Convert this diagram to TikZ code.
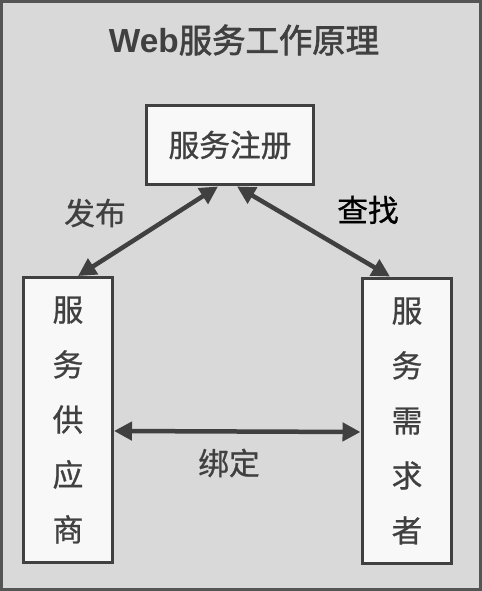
\documentclass[tikz,border=0pt]{standalone}
\usepackage{fontspec}
\newfontfamily\cjk[FakeBold=0.8]{Noto Sans CJK SC}
\newfontfamily\cjkb[FakeBold=2]{Noto Sans CJK SC}
\newfontfamily\latinb{Liberation Sans}
\usetikzlibrary{positioning,calc,arrows.meta}
\definecolor{bgray}{HTML}{D9D9D9}
\definecolor{dgray}{HTML}{404040}
\definecolor{framegray}{HTML}{555555}
\definecolor{boxfill}{HTML}{F8F8F8}

\begin{document}
\begin{tikzpicture}
        [x=0.02cm,y=-0.02cm,
        every node/.style={font=\cjk\fontsize{17.5}{31.3}\selectfont,text=dgray,inner sep=0pt},
        box/.style={draw=dgray,fill=boxfill,line width=0.6mm,align=center},
        link/.style={{Triangle[length=3.6mm,width=3.6mm]}-{Triangle[length=3.6mm,width=3.6mm]},draw=dgray,line width=0.9mm}]
        \useasboundingbox (0,0) rectangle (482,591);
        \draw[draw=framegray,fill=bgray,line width=0.06cm] (1.5,1.5) rectangle (480.5,589.5);
        % title
        \node (title) at (244,40) {\fontsize{19}{22}\selectfont{\latinb\bfseries Web}\cjkb 服务工作原理};
        % boxes
        \node[box,minimum width=3.36cm,minimum height=1.6cm] (reg) at (230,145) {服务注册};
        \node[box,minimum width=1.78cm,minimum height=5.7cm] (prov) at (68,420) {服\\务\\供\\应\\商};
        \node[box,minimum width=1.8cm,minimum height=5.72cm] (req) at (407,421) {服\\务\\需\\求\\者};
        % links
        \draw[link] ([xshift=-0.24cm]reg.south) -- ([xshift=0.2cm]prov.north);
        \draw[link] ([xshift=0.14cm]reg.south) -- ([xshift=-0.34cm]req.north);
        \draw[link] ([yshift=-0.22cm]prov.east) -- ([yshift=-0.22cm]req.west);
        % labels
        \node (pub) at (95,213) {发布};
        \node[text=black] (find) at (368,210) {查找};
        \node (bind) at (229,463) {绑定};
\end{tikzpicture}
\end{document}
